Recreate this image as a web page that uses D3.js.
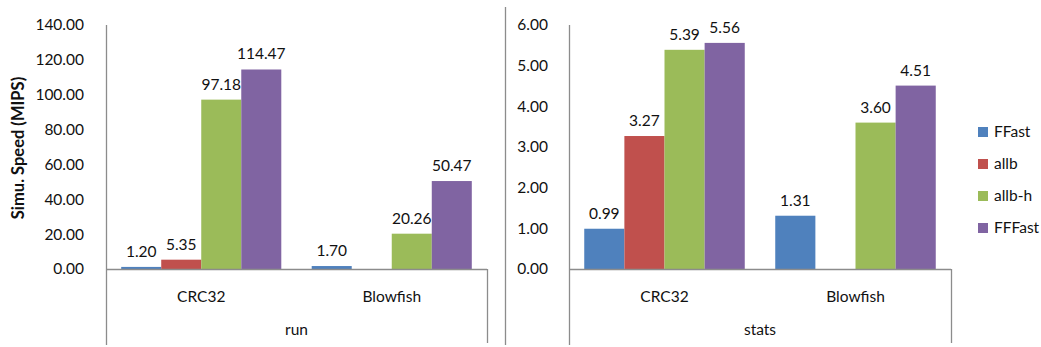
<!DOCTYPE html>
<html>
<head>
<meta charset="utf-8">
<script src="https://cdn.jsdelivr.net/npm/d3@7"></script>
<style>
  html, body { margin: 0; padding: 0; background: #fff; }
  svg { display: block; }
  text { font-family: Lato, "Open Sans", sans-serif; fill: #111; }
</style>
</head>
<body>
<svg id="chart" width="1041" height="347"></svg>
<script>
// Benchmarks and simulator variants
const categories = ["CRC32", "Blowfish"];
const series = ["FFast", "allb", "allb-h", "FFFast"];
const colors = ["#4F81BD", "#C0504D", "#9BBB59", "#8064A2"];

// Simulation speed (MIPS) per variant, in the order [CRC32, Blowfish]; null = no bar
const runFFast  = [1.20, 1.70];
const runAllb   = [5.35, null];
const runAllbH  = [97.18, 20.26];
const runFFFast = [114.47, 50.47];

const statsFFast  = [0.99, 1.31];
const statsAllb   = [3.27, null];
const statsAllbH  = [5.39, 3.60];
const statsFFFast = [5.56, 4.51];

const runTicks = [0, 20, 40, 60, 80, 100, 120, 140];
const statsTicks = [0, 1, 2, 3, 4, 5, 6];

const svg = d3.select("#chart");
const axisColor = "#8c8c8c";

function panel(opts) {
  const { left, right, top, bottom, axisBottom, ticks, values, group, tickX } = opts;
  const g = svg.append("g");
  const y = d3.scaleLinear().domain([0, d3.max(ticks)]).range([bottom, top]);
  const x0 = d3.scaleBand().domain(categories).range([left, right]).paddingInner(0).paddingOuter(0);
  const x1 = d3.scaleBand().domain(series).range([0, x0.bandwidth()]).paddingInner(0).paddingOuter(0.38);

  // value tick labels
  g.selectAll("text.tick").data(ticks).join("text")
    .attr("class", "tick")
    .attr("x", tickX)
    .attr("y", d => y(d))
    .attr("dy", "0.35em")
    .attr("text-anchor", "end")
    .style("font-size", "15.5px")
    .text(d => d3.format(".2f")(d));

  // bars
  const rows = [];
  categories.forEach((c, ci) => {
    series.forEach((s, si) => {
      const v = values[si][ci];
      if (v != null) rows.push({ c, s, si, v });
    });
  });
  g.selectAll("rect.bar").data(rows).join("rect")
    .attr("class", "bar")
    .attr("x", d => x0(d.c) + x1(d.s))
    .attr("width", x1.bandwidth())
    .attr("y", d => y(d.v))
    .attr("height", d => y(0) - y(d.v))
    .attr("fill", d => colors[d.si]);

  // data labels
  g.selectAll("text.lbl").data(rows).join("text")
    .attr("class", "lbl")
    .attr("x", d => x0(d.c) + x1(d.s) + x1.bandwidth() / 2)
    .attr("y", d => y(d.v) - 10)
    .attr("text-anchor", "middle")
    .style("font-size", "15.5px")
    .text(d => d3.format(".2f")(d.v));

  // axes
  g.append("line").attr("x1", left + 0.5).attr("x2", left + 0.5)
    .attr("y1", top).attr("y2", axisBottom)
    .attr("stroke", axisColor).attr("stroke-width", 1.3);
  g.append("line").attr("x1", left).attr("x2", right)
    .attr("y1", y(0) + 0.5).attr("y2", y(0) + 0.5)
    .attr("stroke", axisColor).attr("stroke-width", 1.3);
  g.append("line").attr("x1", right + 0.5).attr("x2", right + 0.5)
    .attr("y1", y(0)).attr("y2", axisBottom - 2)
    .attr("stroke", axisColor).attr("stroke-width", 1.3);

  // category labels (two levels)
  g.selectAll("text.cat").data(categories).join("text")
    .attr("class", "cat")
    .attr("x", d => x0(d) + x0.bandwidth() / 2)
    .attr("y", 297)
    .attr("dy", "0.35em")
    .attr("text-anchor", "middle")
    .style("font-size", "15.5px")
    .text(d => d);
  g.append("text")
    .attr("x", (left + right) / 2)
    .attr("y", 330)
    .attr("dy", "0.35em")
    .attr("text-anchor", "middle")
    .style("font-size", "15.5px")
    .text(group);
}

panel({
  left: 106, right: 487, top: 25, bottom: 269, axisBottom: 345, tickX: 84,
  ticks: runTicks, values: [runFFast, runAllb, runAllbH, runFFFast], group: "run"
});
panel({
  left: 569, right: 951, top: 25, bottom: 269, axisBottom: 345, tickX: 548,
  ticks: statsTicks, values: [statsFFast, statsAllb, statsAllbH, statsFFFast], group: "stats"
});

// divider between the two panels
svg.append("line").attr("x1", 505.5).attr("x2", 505.5).attr("y1", 7).attr("y2", 345)
  .attr("stroke", axisColor).attr("stroke-width", 1.3);

// y-axis title
svg.append("text")
  .attr("transform", "translate(18,148) rotate(-90)")
  .attr("dy", "0.35em")
  .attr("text-anchor", "middle")
  .style("font-size", "16.5px")
  .style("font-weight", "bold")
  .text("Simu. Speed (MIPS)");

// legend
const leg = svg.append("g").selectAll("g").data(series).join("g")
  .attr("transform", (d, i) => `translate(978,${132 + i * 32})`);
leg.append("rect").attr("x", 0).attr("y", -5).attr("width", 10).attr("height", 10)
  .attr("fill", (d, i) => colors[i]);
leg.append("text").attr("x", 16).attr("y", 0).attr("dy", "0.35em")
  .style("font-size", "15.5px").text(d => d);
</script>
</body>
</html>
